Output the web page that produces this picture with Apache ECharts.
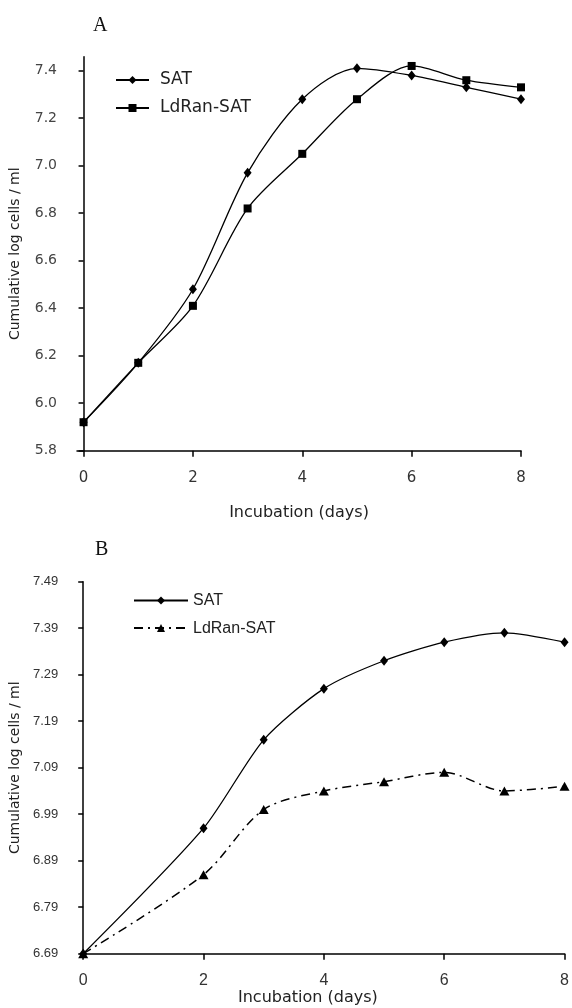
<!DOCTYPE html>
<html>
<head>
<meta charset="utf-8">
<script src="https://cdn.jsdelivr.net/npm/echarts@6/dist/echarts.min.js"></script>
<style>
html,body{margin:0;padding:0;background:#fff;}
#c{width:572px;height:1008px;}
</style>
</head>
<body>
<div id="c"></div>
<script>
// Panel A
const daysA = [0, 1, 2, 3, 4, 5, 6, 7, 8];
const satA = [5.92, 6.17, 6.48, 6.97, 7.28, 7.41, 7.38, 7.33, 7.28];
const ldranA = [5.92, 6.17, 6.41, 6.82, 7.05, 7.28, 7.42, 7.36, 7.33];
const yTicksA = [5.8, 6.0, 6.2, 6.4, 6.6, 6.8, 7.0, 7.2, 7.4];
const xTicksA = [0, 2, 4, 6, 8];
// Panel B
const daysB = [0, 2, 3, 4, 5, 6, 7, 8];
const satB = [6.69, 6.96, 7.15, 7.26, 7.32, 7.36, 7.38, 7.36];
const ldranB = [6.69, 6.86, 7.00, 7.04, 7.06, 7.08, 7.04, 7.05];
const yTicksB = [6.69, 6.79, 6.89, 6.99, 7.09, 7.19, 7.29, 7.39, 7.49];
const xTicksB = [0, 2, 4, 6, 8];
const seriesNames = ['SAT', 'LdRan-SAT'];
const xTitle = 'Incubation (days)';
const yTitle = 'Cumulative log cells / ml';
const panelLabels = ['A', 'B'];

const pair = (xs, ys) => xs.map((x, i) => [x, ys[i]]);
const chart = echarts.init(document.getElementById('c'), null, {renderer: 'canvas'});

const axisLineStyle = {show: true, lineStyle: {color: '#000', width: 1.5}};

chart.setOption({
  backgroundColor: '#fff',
  animation: false,
  title: [
    {text: panelLabels[0], left: 88, top: 11, textStyle: {fontFamily: 'Liberation Serif', fontSize: 20, fontWeight: 'normal', color: '#111'}},
    {text: panelLabels[1], left: 90, top: 535, textStyle: {fontFamily: 'Liberation Serif', fontSize: 20, fontWeight: 'normal', color: '#111'}}
  ],
  legend: [
    {
      orient: 'vertical', left: 110, top: 66, itemWidth: 33, itemHeight: 10, itemGap: 10,
      data: [{name: seriesNames[0]}, {name: seriesNames[1]}],
      textStyle: {fontFamily: 'DejaVu Sans', fontSize: 17, color: '#222', lineHeight: 18, padding: [0, 0, 0, 6]}
    },
    {
      orient: 'vertical', left: 128, top: 587, itemWidth: 54, itemHeight: 10, itemGap: 10.6,
      data: [{name: seriesNames[0] + ' '}, {name: seriesNames[1] + ' '}],
      textStyle: {fontFamily: 'Liberation Sans', fontSize: 16, color: '#222', lineHeight: 17}
    }
  ],
  grid: [
    {left: 74, right: 51, top: 56.7, bottom: 557.3},
    {left: 83, right: 6, top: 581.7, bottom: 54.3}
  ],
  xAxis: [
    {
      gridIndex: 0, type: 'value', min: -0.12, max: 8,
      axisLine: axisLineStyle,
      axisTick: {show: true, customValues: xTicksA, length: 6, lineStyle: {color: '#000', width: 1.5}},
      axisLabel: {customValues: xTicksA, margin: 20, fontFamily: 'DejaVu Sans', fontSize: 15, color: '#333'},
      splitLine: {show: false},
      name: xTitle, nameLocation: 'middle', nameGap: 54,
      nameTextStyle: {fontFamily: 'DejaVu Sans', fontSize: 16, color: '#222'}
    },
    {
      gridIndex: 1, type: 'value', min: 0, max: 8,
      axisLine: axisLineStyle,
      axisTick: {show: true, customValues: xTicksB, length: 6, lineStyle: {color: '#000', width: 1.5}},
      axisLabel: {customValues: xTicksB, margin: 19, fontFamily: 'Liberation Sans', fontSize: 16, color: '#333'},
      splitLine: {show: false},
      name: xTitle, nameLocation: 'middle', nameGap: 36,
      nameTextStyle: {fontFamily: 'DejaVu Sans', fontSize: 16, color: '#222', padding: [0, 32, 0, 0]}
    }
  ],
  yAxis: [
    {
      gridIndex: 0, type: 'value', min: 5.8, max: 7.459,
      axisLine: {show: true, onZero: true, lineStyle: {color: '#000', width: 1.5}},
      axisTick: {show: true, customValues: yTicksA, length: 5, lineStyle: {color: '#000', width: 1.5}},
      axisLabel: {customValues: yTicksA, margin: 20, fontFamily: 'DejaVu Sans', fontSize: 14, color: '#444',
        formatter: v => Number(v).toFixed(1)},
      splitLine: {show: false},
      name: yTitle, nameLocation: 'middle', nameGap: 55,
      nameTextStyle: {fontFamily: 'DejaVu Sans', fontSize: 14, color: '#222'}
    },
    {
      gridIndex: 1, type: 'value', min: 6.69, max: 7.49,
      axisLine: {show: true, lineStyle: {color: '#000', width: 1.5}},
      axisTick: {show: true, customValues: yTicksB, length: 5, lineStyle: {color: '#000', width: 1.5}},
      axisLabel: {customValues: yTicksB, margin: 25, fontFamily: 'Liberation Sans', fontSize: 13, color: '#333',
        formatter: v => Number(v).toFixed(2)},
      splitLine: {show: false},
      name: yTitle, nameLocation: 'middle', nameGap: 58,
      nameTextStyle: {fontFamily: 'DejaVu Sans', fontSize: 14, color: '#222'}
    }
  ],
  series: [
    {
      name: seriesNames[0], type: 'line', xAxisIndex: 0, yAxisIndex: 0,
      data: pair(daysA, satA), smooth: 0.3,
      symbol: 'diamond', symbolSize: [8, 10],
      lineStyle: {color: '#000', width: 1.3}, itemStyle: {color: '#000'}
    },
    {
      name: seriesNames[1], type: 'line', xAxisIndex: 0, yAxisIndex: 0,
      data: pair(daysA, ldranA), smooth: 0.3,
      symbol: 'rect', symbolSize: 8,
      lineStyle: {color: '#000', width: 1.3}, itemStyle: {color: '#000'}
    },
    {
      name: seriesNames[0] + ' ', type: 'line', xAxisIndex: 1, yAxisIndex: 1,
      data: pair(daysB, satB), smooth: 0.25,
      symbol: 'diamond', symbolSize: [8, 10],
      lineStyle: {color: '#000', width: 1.3}, itemStyle: {color: '#000'}
    },
    {
      name: seriesNames[1] + ' ', type: 'line', xAxisIndex: 1, yAxisIndex: 1,
      data: pair(daysB, ldranB), smooth: 0.3,
      symbol: 'triangle', symbolSize: [10, 9],
      lineStyle: {color: '#000', width: 1.5, type: [9, 5, 2, 5]}, itemStyle: {color: '#000'}
    }
  ]
});
</script>
</body>
</html>
